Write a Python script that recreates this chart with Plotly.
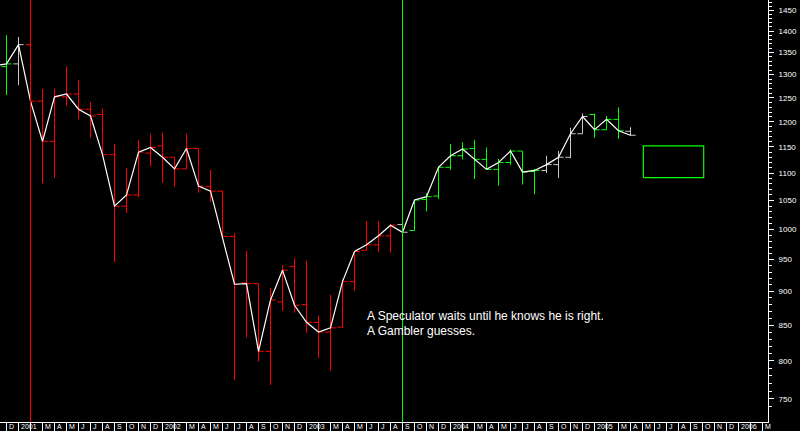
import plotly.graph_objects as go
import pandas as pd
import numpy as np

# ---------------- data (monthly bars) ----------------
bar_months = [str(p) for p in pd.period_range("2000-11", "2005-04", freq="M")]
opens  = [1300, 1318, 1324, 1368, 1243, 1161, 1252, 1258, 1226, 1215, 1135, 1040, 1060, 1138,
          1152, 1130, 1108, 1147, 1075, 1067, 988, 913, 912, 813, 884, 939,
          880, 854, 840, 847, 915, 965, 974, 989, 1008, 998, 1052, 1058,
          1111, 1133, 1147, 1126, 1107, 1120, 1142, 1103, 1105, 1116, 1130, 1176,
          1215, 1184, 1205, 1181]
highs  = [1332, 1390, 1386, 1372, 1269, 1269, 1318, 1288, 1241, 1227, 1156, 1109, 1164, 1176,
          1178, 1130, 1176, 1147, 1106, 1068, 993, 964, 912, 905, 941, 952,
          948, 864, 895, 919, 963, 1014, 1014, 1009, 1012, 1051, 1063, 1112,
          1156, 1159, 1164, 1149, 1127, 1145, 1142, 1108, 1133, 1142, 1188, 1217,
          1217, 1212, 1230, 1189]
lows   = [1290, 1256, 1277, 1235, 1081, 1091, 1233, 1205, 1168, 1135, 946, 1028, 1056, 1113,
          1082, 1075, 1108, 1064, 1048, 988, 774, 832, 799, 768, 871, 868,
          839, 804, 787, 847, 901, 965, 962, 961, 985, 998, 1031, 1053,
          1106, 1126, 1089, 1106, 1077, 1115, 1079, 1061, 1100, 1091, 1128, 1176,
          1168, 1184, 1166, 1172]
closes = [1320, 1324, 1368, 1243, 1161, 1252, 1258, 1226, 1212, 1135, 1040, 1060, 1140, 1149,
          1130, 1108, 1147, 1076, 1067, 988, 911, 912, 813, 887, 933, 879,
          854, 840, 846, 915, 963, 974, 989, 1007, 995, 1051, 1057, 1111,
          1133, 1146, 1126, 1107, 1120, 1142, 1102, 1105, 1116, 1130, 1176, 1211,
          1184, 1205, 1182, 1173]
# bar colour signal: w = grey, g = green, r = red
trend = list("wgw" + "rrrrrrrrrrrrrrrrrrrrrrrrrrrrrrr" + "w" + "ggggggggggg" + "wwww" + "ggg" + "w")

# axis / label data
month_letters = ["J", "F", "M", "A", "M", "J", "J", "A", "S", "O", "N", "D"]
first_label_month = "2000-12"
n_label_cells = 64
y_ticks = [750, 800, 850, 900, 950, 1000, 1050, 1100, 1150, 1200, 1250, 1300, 1350, 1400, 1450]
y_minor = list(range(740, 1480, 10))

# markers / annotations
vline_red_month = "2001-02"
vline_green_month = "2003-09"
box_x = [53.07, 58.1]
box_y = [1091.5, 1152.0]
quote_lines = ["A Speculator waits until he knows he is right.", "A Gambler guesses."]

# ---------------------------------------------------------------------------
colors = {"g": "#00ff00", "r": "#ff0000", "w": "#c8c8c8"}
xs = np.arange(len(bar_months)) - 1  # Dec 2000 -> 0
month_pos = {m: x for m, x in zip(bar_months, xs)}
tw = 0.43

fig = go.Figure()
for key, col in colors.items():
    bx, by = [], []
    for i, k in enumerate(trend):
        if k != key:
            continue
        x = xs[i]
        bx += [x, x, None, x - tw, x, None, x, x + tw, None]
        by += [lows[i], highs[i], None, opens[i], opens[i], None, closes[i], closes[i], None]
    fig.add_trace(go.Scatter(x=bx, y=by, mode="lines", line=dict(color=col, width=1),
                             hoverinfo="skip", showlegend=False))

fig.add_trace(go.Scatter(x=xs, y=closes, mode="lines", line=dict(color="white", width=1.2),
                         hoverinfo="skip", showlegend=False))

fig.add_trace(go.Scatter(x=[box_x[0], box_x[1], box_x[1], box_x[0], box_x[0]],
                         y=[box_y[0], box_y[0], box_y[1], box_y[1], box_y[0]],
                         mode="lines", line=dict(color="#00ff00", width=1.2),
                         hoverinfo="skip", showlegend=False))

shapes = [
    dict(type="line", xref="x", yref="paper", x0=month_pos[vline_red_month], x1=month_pos[vline_red_month],
         y0=0, y1=1, line=dict(color="#ff0000", width=1), layer="above"),
    dict(type="line", xref="x", yref="paper", x0=month_pos[vline_green_month], x1=month_pos[vline_green_month],
         y0=0, y1=1, line=dict(color="#00ff00", width=1), layer="above"),
]

H_PLOT = 422
annotations = []
p0 = pd.Period(first_label_month, freq="M")
for k in range(n_label_cells):
    p = p0 + k
    if p.month == 1:
        lab = str(p.year)
    elif p.month == 2:
        lab = ""
    else:
        lab = month_letters[p.month - 1]
    shapes.append(dict(type="line", xref="x", yref="paper", x0=k, x1=k, y0=0, y1=-9 / H_PLOT,
                       line=dict(color="white", width=1)))
    if lab:
        annotations.append(dict(x=k + 0.14, y=-4.8 / H_PLOT, xref="x", yref="paper", xanchor="left",
                                yanchor="middle", text=lab, showarrow=False, borderpad=0,
                                font=dict(color="white", size=7, family="Liberation Sans")))

for j, (line, ypx) in enumerate(zip(quote_lines, [316, 330.7])):
    annotations.append(dict(x=365 / 768, y=1 - ypx / H_PLOT, xref="paper", yref="paper",
                            xanchor="left", yanchor="middle", text=line, showarrow=False,
                            font=dict(color="white", size=12, family="Liberation Sans")))

fig.update_layout(
    width=800, height=431,
    margin=dict(l=0, r=32, t=0, b=9, autoexpand=False),
    paper_bgcolor="black", plot_bgcolor="black",
    shapes=shapes, annotations=annotations,
    xaxis=dict(range=[-0.5417, 63.4583], showgrid=False, zeroline=False, showticklabels=False,
               showline=True, linecolor="white", linewidth=1, ticks=""),
    yaxis=dict(type="log", range=[2.85799, 3.16898], side="right", showgrid=False, zeroline=False,
               showline=True, linecolor="white", linewidth=1, automargin=False,
               tickmode="array", tickvals=y_ticks, ticktext=[str(v) for v in y_ticks],
               ticks="outside", ticklen=5, tickcolor="white", tickwidth=1,
               tickfont=dict(color="white", size=8, family="Liberation Sans"),
               ticklabelstandoff=3,
               minor=dict(tickmode="array", tickvals=y_minor, ticks="outside", ticklen=3,
                          tickcolor="white", showgrid=False)),
)

fig.write_html("out.html", config={"displayModeBar": False},
               post_script="document.body.style.margin='0';document.body.style.background='black';")
